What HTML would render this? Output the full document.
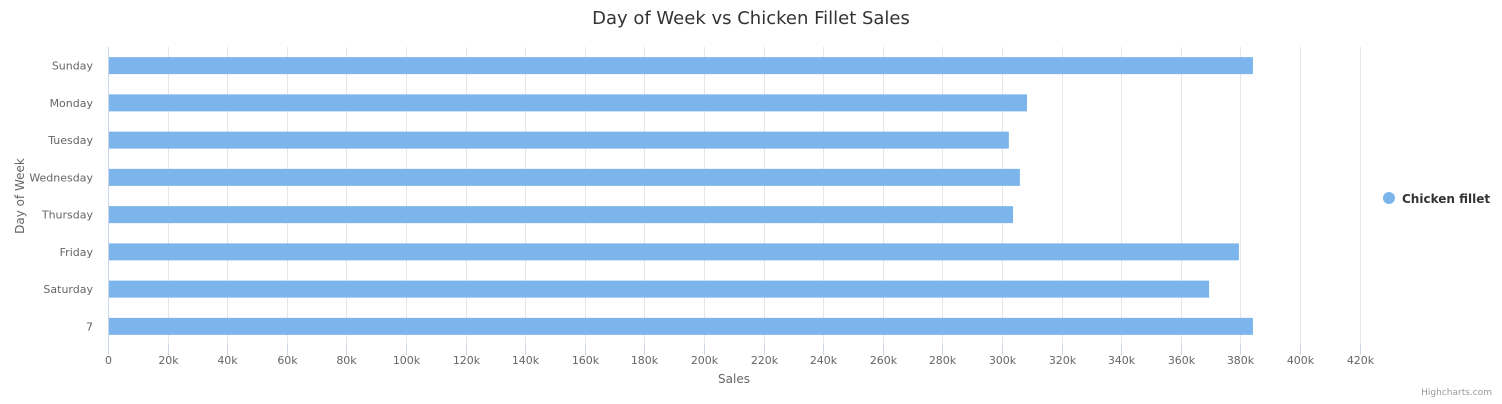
<!DOCTYPE html>
<html><head><meta charset="utf-8"><style>
body{margin:0;background:#fff;width:1502px;height:400px;overflow:hidden;font-family:"DejaVu Sans","Liberation Sans",sans-serif}
</style></head><body>
<svg id="c" width="1502" height="400" xmlns="http://www.w3.org/2000/svg">
<text x="751" y="24" text-anchor="middle" font-size="18" fill="#333">Day of Week vs Chicken Fillet Sales</text>
<g id="grid"></g><g id="bars"></g><g id="xl"></g><g id="yl"></g>
<line x1="108.5" y1="47" x2="108.5" y2="345" stroke="#ccd6eb"/>
<text x="734" y="383" text-anchor="middle" font-size="12" fill="#666">Sales</text>
<text transform="translate(24,196) rotate(-90)" text-anchor="middle" font-size="12" fill="#666">Day of Week</text>
<g><circle cx="1389" cy="198" r="6" fill="#7cb5ec"/><text x="1402" y="203" font-size="12" font-weight="bold" fill="#333">Chicken fillet</text></g>
<text x="1492" y="395" text-anchor="end" font-size="9" fill="#999">Highcharts.com</text>
</svg>
<script>
const categories=["Sunday","Monday","Tuesday","Wednesday","Thursday","Friday","Saturday","7"];
const values=[384200,308400,302300,306000,303700,379500,369500,384200];
const ticks=[0,20000,40000,60000,80000,100000,120000,140000,160000,180000,200000,220000,240000,260000,280000,300000,320000,340000,360000,380000,400000,420000];
const NS="http://www.w3.org/2000/svg";
const x0=108,pxPer=(1300-108)/400000,plotTop=47,plotBot=345;
const xs=v=>x0+v*pxPer;
const band=(plotBot-plotTop)/categories.length;
function mk(t,a,p,txt){const e=document.createElementNS(NS,t);for(const k in a)e.setAttribute(k,a[k]);if(txt!=null)e.textContent=txt;document.getElementById(p).appendChild(e);return e;}
ticks.forEach((t,i)=>{
 const px=Math.round(xs(t))+0.5;
 if(i>0){const g=mk('line',{x1:px,y1:plotTop,x2:px,y2:plotBot,stroke:'#e6e6e6'},'grid');
 
 }
 const tm=mk('line',{x1:px,y1:plotBot,x2:px,y2:plotBot+10,stroke:'#ccd6eb'},'grid');
 
 
 const l=mk('text',{x:px,y:364,'text-anchor':'middle','font-size':11,fill:'#666'},'xl',t===0?'0':(t/1000)+'k');
 
 
});
categories.forEach((c,i)=>{
 const cy=plotTop+band*(i+0.5);
 const b=mk('rect',{x:x0+1,y:cy-8.5,width:xs(values[i])-x0-1,height:17,fill:'#7cb5ec'},'bars');
 
 
 const l=mk('text',{x:93,y:cy+4,'text-anchor':'end','font-size':11,fill:'#666'},'yl',c);
 
 
});
</script>
</body></html>
